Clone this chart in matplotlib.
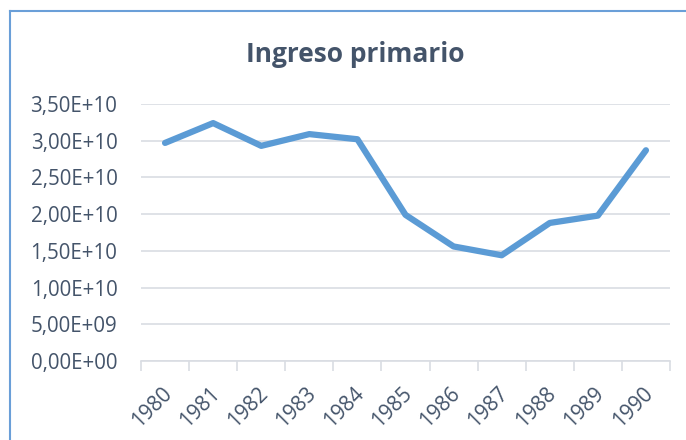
import matplotlib
matplotlib.use('Agg')
import matplotlib.pyplot as plt
from matplotlib.lines import Line2D
from matplotlib.transforms import ScaledTranslation
from matplotlib.ticker import FuncFormatter, MultipleLocator, FixedLocator

plt.rcParams['font.family'] = ['Open Sans', 'DejaVu Sans']

# datos
years = ['1980', '1981', '1982', '1983', '1984', '1985',
         '1986', '1987', '1988', '1989', '1990']
ingreso = [2.97e10, 3.24e10, 2.93e10, 3.09e10, 3.02e10, 1.99e10,
           1.56e10, 1.44e10, 1.88e10, 1.98e10, 2.87e10]

text_color = '#44546A'
grid_color = '#D9DDE3'

fig = plt.figure(figsize=(6.86, 4.4), dpi=100)
ax = fig.add_axes([141/686, 1 - 361/440, (670 - 141)/686, (361 - 104)/440])

x = list(range(len(years)))
ax.plot(x, ingreso, color='#5B9BD5', linewidth=4.5,
        solid_capstyle='round', solid_joinstyle='round', zorder=3)

ax.set_xlim(-0.5, len(years) - 0.5)
ax.set_ylim(0, 3.5e10)

# eje y con formato 3,50E+10
def sci_fmt(v, pos):
    s = '%.2E' % v
    return s.replace('.', ',')

ax.yaxis.set_major_locator(MultipleLocator(5e9))
ax.yaxis.set_major_formatter(FuncFormatter(sci_fmt))
ax.tick_params(axis='y', length=0, pad=17, labelsize=14.8, labelcolor=text_color)
ax.grid(axis='y', color=grid_color, linewidth=1.2, zorder=0)

# eje x: etiquetas en el centro, marcas entre categorias
ax.set_xticks(x)
ax.set_xticklabels(years, rotation=45, ha='right', va='top',
                   rotation_mode='anchor')
ax.xaxis.set_minor_locator(FixedLocator([i - 0.5 for i in range(len(years) + 1)]))
ax.tick_params(axis='x', which='major', length=0, pad=16, labelsize=15,
               labelcolor=text_color)
ax.tick_params(axis='x', which='minor', length=7, width=1.2, color=grid_color)
shift = ScaledTranslation(-4/100, 0, fig.dpi_scale_trans)
for lbl in ax.get_xticklabels():
    lbl.set_transform(lbl.get_transform() + shift)

for side in ['top', 'right', 'left']:
    ax.spines[side].set_visible(False)
ax.spines['bottom'].set_color(grid_color)
ax.spines['bottom'].set_linewidth(1.2)

fig.text(355/686, 1 - 55/440, 'Ingreso primario', ha='center', va='center',
         fontsize=19, fontweight='bold', color=text_color)

# borde del grafico
fig.add_artist(Line2D([10/686, 10/686], [0, 1 - 11/440], color='#6A9FD8',
                      linewidth=1.5, transform=fig.transFigure))
fig.add_artist(Line2D([10/686, 1], [1 - 11/440, 1 - 11/440], color='#6A9FD8',
                      linewidth=1.5, transform=fig.transFigure))

fig.savefig('out.png', dpi=100)
